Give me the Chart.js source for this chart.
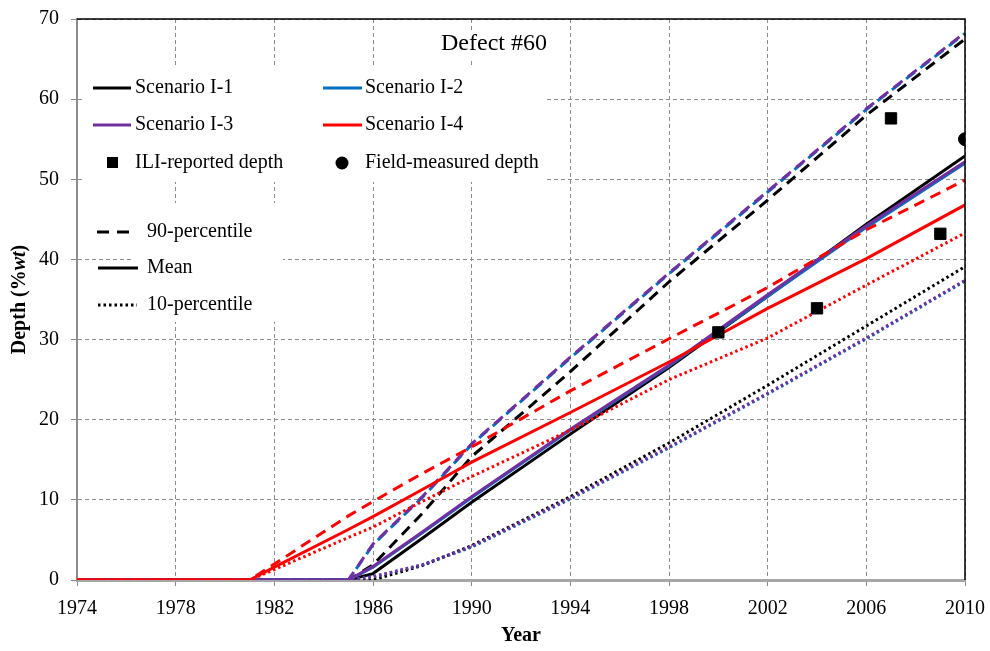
<!DOCTYPE html>
<html>
<head>
<meta charset="utf-8">
<title>Defect #60 depth growth</title>
<script src="https://cdn.jsdelivr.net/npm/chart.js@4.4.1/dist/chart.umd.min.js"></script>
<style>
  html, body { margin: 0; padding: 0; background: #fff; }
  #wrap { width: 990px; height: 651px; }
</style>
</head>
<body>
<div id="wrap"><canvas id="depthChart" width="990" height="651"></canvas></div>
<script>
// Year knots shared by all predicted curves
const years = [1974, 1981, 1982, 1985, 1986, 1988, 1990, 1994, 1998, 2002, 2006, 2010];

// Scenario I-1
const s1Upper = [0, 0, 0, 0, 1.9, 8.3, 15.4, 26.0, 37.2, 47.4, 58.0, 67.5];
const s1Mean  = [0, 0, 0, 0, 0.8, 5.2, 9.7, 18.2, 26.5, 35.4, 44.4, 52.9];
const s1Lower = [0, 0, 0, 0, 0, 1.8, 4.3, 10.4, 17.1, 24.3, 31.7, 39.1];

// Scenario I-2
const s2Upper = [0, 0, 0, 0, 4.4, 10.3, 16.9, 27.7, 38.2, 48.4, 58.7, 68.2];
const s2Mean  = [0, 0, 0, 0, 1.6, 5.9, 10.3, 18.7, 26.7, 35.4, 44.0, 52.0];
const s2Lower = [0, 0, 0, 0, 0.4, 1.9, 4.1, 10.1, 16.5, 23.2, 30.1, 37.3];

// Scenario I-3
const s3Upper = [0, 0, 0, 0, 4.5, 10.4, 17.0, 27.8, 38.3, 48.5, 58.8, 68.3];
const s3Mean  = [0, 0, 0, 0, 1.7, 6.0, 10.4, 18.8, 26.8, 35.6, 44.2, 52.2];
const s3Lower = [0, 0, 0, 0, 0.4, 1.9, 4.2, 10.2, 16.6, 23.3, 30.2, 37.4];

// Scenario I-4
const s4Upper = [0, 0, 2.0, 8.0, 9.8, 13.3, 16.6, 23.6, 30.1, 36.5, 43.7, 49.9];
const s4Mean  = [0, 0, 1.6, 6.3, 7.9, 11.3, 14.7, 20.9, 27.2, 33.9, 40.1, 46.8];
const s4Lower = [0, 0, 1.3, 5.3, 6.6, 9.8, 12.9, 18.7, 25.0, 30.2, 36.8, 43.3];

// Inspection data
const iliYears = [2000, 2004, 2007, 2009];
const iliDepth = [30.9, 33.9, 57.6, 43.2];
const fieldYears = [2010];
const fieldDepth = [55.0];

const xTicks = { min: 1974, max: 2010, step: 4 };
const yTicks = { min: 0, max: 70, step: 10 };

const FONT = "'Liberation Serif', 'Times New Roman', serif";
const BLACK = '#000000', BLUE = '#0070C0', PURPLE = '#7030A0', RED = '#FF0000';

const DASH = [11, 7];
const DOT = [2.5, 3];

const pts = (xs, ys) => xs.map((x, i) => ({ x: x, y: ys[i] }));

const curve = (vals, color, dash, order, offset) => ({
  type: 'line',
  data: pts(years, vals),
  borderColor: color,
  borderWidth: 3,
  borderDash: dash,
  borderDashOffset: offset || 0,
  borderCapStyle: 'butt',
  pointRadius: 0,
  tension: 0,
  fill: false,
  order: order
});

const datasets = [
  { type: 'scatter', label: 'ILI-reported depth', data: pts(iliYears, iliDepth),
    pointStyle: 'rect', pointRadius: 8, backgroundColor: BLACK, borderColor: BLACK, order: 0 },
  { type: 'scatter', label: 'Field-measured depth', data: pts(fieldYears, fieldDepth),
    pointStyle: 'circle', pointRadius: 6.5, backgroundColor: BLACK, borderColor: BLACK, order: 0 },

  curve(s4Upper, RED, DASH, 1),
  curve(s4Mean, RED, [], 1),
  curve(s4Lower, RED, DOT, 1),

  curve(s3Upper, PURPLE, DASH, 2),
  curve(s3Mean, PURPLE, [], 2),
  curve(s3Lower, PURPLE, DOT, 2),

  curve(s2Upper, BLUE, DASH, 3, 3),
  curve(s2Mean, BLUE, [], 3),
  curve(s2Lower, BLUE, DOT, 3),

  curve(s1Upper, BLACK, DASH, 4),
  curve(s1Mean, BLACK, [], 4),
  curve(s1Lower, BLACK, DOT, 4)
];

// white patches behind the title and legends, then the legend entries
const legendPlugin = {
  id: 'legendPlugin',
  beforeDatasetsDraw(chart) {
    const ctx = chart.ctx;
    ctx.save();
    ctx.fillStyle = '#fff';
    ctx.fillRect(435, 31, 120, 30);
    ctx.fillRect(85, 67, 462, 115);
    ctx.fillRect(132, 203, 151, 119);

    ctx.fillStyle = '#000';
    ctx.font = '24px ' + FONT;
    ctx.textAlign = 'center';
    ctx.textBaseline = 'middle';
    ctx.fillText('Defect #60', 494, 44);

    const seg = (x1, x2, y, color, dash, width) => {
      ctx.beginPath();
      ctx.setLineDash(dash);
      ctx.lineCap = 'butt';
      ctx.strokeStyle = color;
      ctx.lineWidth = width;
      ctx.moveTo(x1, y);
      ctx.lineTo(x2, y);
      ctx.stroke();
    };

    ctx.font = '20px ' + FONT;
    ctx.textAlign = 'left';
    ctx.fillStyle = '#000';

    seg(93, 131, 88, BLACK, [], 3);
    ctx.fillText('Scenario I-1', 135, 88);
    seg(323, 362, 88, BLUE, [], 3);
    ctx.fillText('Scenario I-2', 365, 88);

    seg(93, 131, 125, PURPLE, [], 3);
    ctx.fillText('Scenario I-3', 135, 125);
    seg(323, 362, 125, RED, [], 3);
    ctx.fillText('Scenario I-4', 365, 125);

    ctx.fillRect(107, 157, 11, 11);
    ctx.fillText('ILI-reported depth', 135, 163);
    ctx.beginPath();
    ctx.arc(342, 163, 6.5, 0, Math.PI * 2);
    ctx.fill();
    ctx.fillText('Field-measured depth', 365, 163);

    seg(97, 129, 232, BLACK, [12, 8], 3);
    ctx.fillText('90-percentile', 147, 232);
    seg(98, 138, 268, BLACK, [], 3);
    ctx.fillText('Mean', 147, 268);
    seg(98, 137, 305, BLACK, DOT, 3);
    ctx.fillText('10-percentile', 147, 305);
    ctx.restore();
  },
  afterDraw(chart) {
    const ctx = chart.ctx;
    const a = chart.chartArea;
    ctx.save();
    // top and right frame
    ctx.strokeStyle = '#000';
    ctx.lineWidth = 1.5;
    ctx.setLineDash([]);
    ctx.beginPath();
    ctx.moveTo(a.left, a.top);
    ctx.lineTo(a.right, a.top);
    ctx.lineTo(a.right, a.bottom);
    ctx.stroke();

    // y-axis title with italic "wt"
    ctx.fillStyle = '#000';
    ctx.textBaseline = 'middle';
    ctx.textAlign = 'left';
    const parts = [
      ['Depth (%', 'bold 20px ' + FONT],
      ['wt', 'italic bold 20px ' + FONT],
      [')', 'bold 20px ' + FONT]
    ];
    let total = 0;
    parts.forEach(p => { ctx.font = p[1]; total += ctx.measureText(p[0]).width; });
    ctx.translate(20, (a.top + a.bottom) / 2);
    ctx.rotate(-Math.PI / 2);
    let x = -total / 2;
    parts.forEach(p => {
      ctx.font = p[1];
      ctx.fillText(p[0], x, 0);
      x += ctx.measureText(p[0]).width;
    });
    ctx.restore();

    // x-axis title
    ctx.save();
    ctx.fillStyle = '#000';
    ctx.font = 'bold 20px ' + FONT;
    ctx.textAlign = 'center';
    ctx.textBaseline = 'middle';
    ctx.fillText('Year', (a.left + a.right) / 2, 636);
    ctx.restore();
  }
};

new Chart(document.getElementById('depthChart').getContext('2d'), {
  type: 'line',
  data: { datasets: datasets },
  plugins: [legendPlugin],
  options: {
    responsive: false,
    animation: false,
    events: [],
    layout: { padding: { top: 19, right: 25, left: 0, bottom: 0 } },
    plugins: { legend: { display: false }, tooltip: { enabled: false }, title: { display: false } },
    scales: {
      x: {
        type: 'linear',
        min: xTicks.min,
        max: xTicks.max,
        afterFit: s => {
          s.height = 71;
          s.paddingLeft = 0;
          s.paddingRight = 0;
        },
        afterBuildTicks: s => {
          s.ticks = [];
          for (let v = xTicks.min; v <= xTicks.max; v += xTicks.step) s.ticks.push({ value: v });
        },
        ticks: {
          callback: v => String(v),
          color: '#000',
          font: { family: FONT, size: 20 },
          padding: 11,
          maxRotation: 0,
          autoSkip: false
        },
        grid: { color: '#8c8c8c', lineWidth: 1, tickLength: 6, tickColor: '#8c8c8c', tickBorderDash: [] },
        border: { display: true, color: '#a6a6a6', width: 3, dash: [4, 3] }
      },
      y: {
        min: yTicks.min,
        max: yTicks.max,
        afterFit: s => {
          s.width = 77;
          s.paddingTop = 0;
          s.paddingBottom = 0;
        },
        ticks: {
          stepSize: yTicks.step,
          color: '#000',
          font: { family: FONT, size: 20 },
          padding: 12
        },
        grid: { color: '#8c8c8c', lineWidth: 1, tickLength: 6, tickColor: '#8c8c8c', tickBorderDash: [] },
        border: { display: true, color: '#8c8c8c', width: 2, dash: [4, 3] }
      }
    }
  }
});
</script>
</body>
</html>
